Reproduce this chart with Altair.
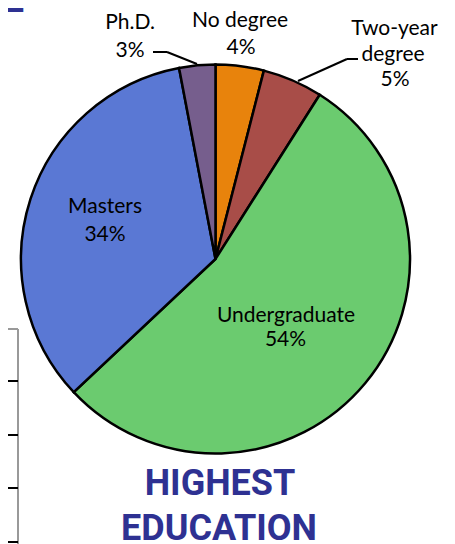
import altair as alt
import pandas as pd

# ---- data ----
categories = ["No degree", "Two-year degree", "Undergraduate", "Masters", "Ph.D."]
shares = [4, 5, 54, 34, 3]
colors = ["#E8830C", "#A84D48", "#6BCB6F", "#5A78D4", "#765E8D"]
title_lines = ["HIGHEST", "EDUCATION"]
cut_heading = "LE"

df = pd.DataFrame({"category": categories, "share": shares, "order": list(range(len(categories)))})

W, H = 432, 536
CX, CY, R = 207.5, 251, 194.5
LABEL_FONT = "Lato"
TITLE_FONT = "Roboto"
NAVY = "#2E3192"
one = pd.DataFrame({"k": [0]})

pie = alt.Chart(df).mark_arc(outerRadius=R, stroke="black", strokeWidth=2.5).encode(
    theta=alt.Theta("share:Q", stack=True),
    order=alt.Order("order:Q"),
    color=alt.Color("category:N", scale=alt.Scale(domain=categories, range=colors), legend=None),
    x=alt.value(CX), y=alt.value(CY),
)


def name_line(cat, s, x, y, size=21):
    return alt.Chart(df).transform_filter(alt.datum.category == cat).transform_calculate(
        t=f"'{s}'"
    ).mark_text(font=LABEL_FONT, fontSize=size, color="black", align="center", baseline="alphabetic").encode(
        text="t:N", x=alt.value(x), y=alt.value(y))


def pct_line(cat, x, y, size=21):
    return alt.Chart(df).transform_filter(alt.datum.category == cat).transform_calculate(
        t="datum.share + '%'"
    ).mark_text(font=LABEL_FONT, fontSize=size, color="black", align="center", baseline="alphabetic").encode(
        text="t:N", x=alt.value(x), y=alt.value(y))


def seg(x1, y1, x2, y2, color="black", w=2):
    return alt.Chart(one).mark_rule(color=color, strokeWidth=w).encode(
        x=alt.value(x1), x2=alt.value(x2), y=alt.value(y1), y2=alt.value(y2))


def plain(s, x, y, size, font, color, weight="normal", align="center"):
    return alt.Chart(pd.DataFrame({"t": [s]})).mark_text(
        font=font, fontSize=size, color=color, fontWeight=weight, align=align, baseline="alphabetic"
    ).encode(text="t:N", x=alt.value(x), y=alt.value(y))


labels = [
    name_line("Ph.D.", "Ph.D.", 122, 21), pct_line("Ph.D.", 122, 49),
    name_line("No degree", "No degree", 232, 19), pct_line("No degree", 233, 46),
    name_line("Two-year degree", "Two-year", 386.5, 27),
    name_line("Two-year degree", "degree", 385, 53),
    pct_line("Two-year degree", 387, 78),
    name_line("Masters", "Masters", 97, 205), pct_line("Masters", 97, 233),
    name_line("Undergraduate", "Undergraduate", 278, 314), pct_line("Undergraduate", 277.5, 338),
]

leaders = [
    seg(145, 44, 159, 44), seg(159, 44, 189, 56),
    seg(350, 51, 339, 51), seg(339, 51, 290, 73),
]

# cut-off table at the left edge
table = [seg(10, 321, 10, 536, color="#999999", w=2), seg(0, 321, 10, 321, color="#999999", w=2)]
for yy in [373, 427, 480, 534]:
    table.append(seg(0, yy, 10, yy, color="black", w=2))

titles = [
    plain(title_lines[0], 212, 487, 36, TITLE_FONT, NAVY, weight="bold"),
    plain(title_lines[1], 211, 532, 36, TITLE_FONT, NAVY, weight="bold"),
    plain(cut_heading, 16, 4, 36, TITLE_FONT, NAVY, weight="bold", align="right"),
]

chart = alt.layer(pie, *labels, *leaders, *table, *titles).properties(
    width=W, height=H, padding=0, autosize="none"
).configure_view(stroke=None)

chart.save("out.html", embed_options={"renderer": "svg", "actions": False})
